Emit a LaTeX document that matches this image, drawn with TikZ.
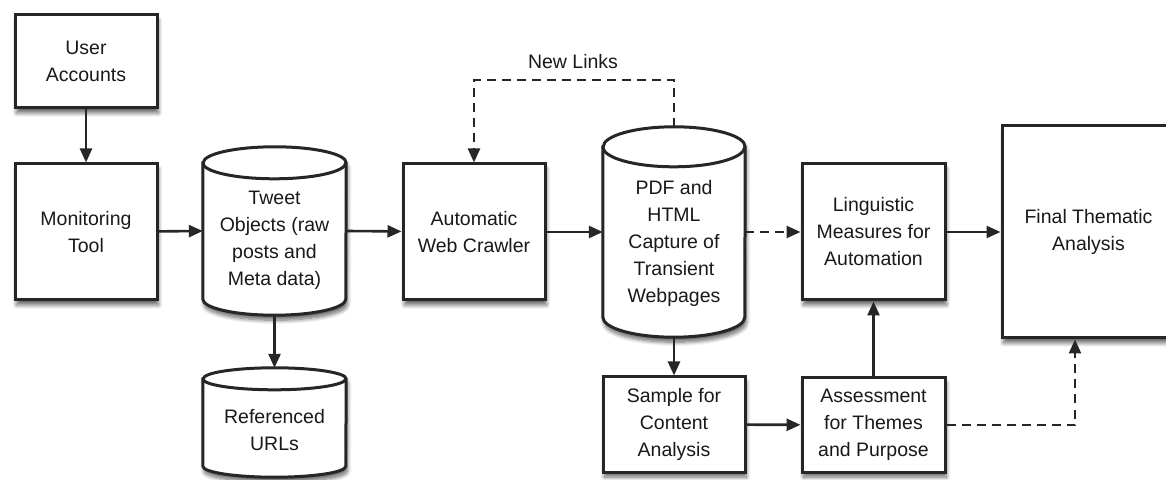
\documentclass[tikz,border=0pt]{standalone}
\usepackage{fontspec}
\setmainfont{Liberation Sans}
\usetikzlibrary{arrows.meta,shadows.blur}
\tikzset{
  x=1pt,y=1pt,
  lbl/.style={font=\fontsize{19.5}{27}\selectfont, align=center, text=black!90},
  shad/.style={blur shadow={shadow xshift=1.5pt, shadow yshift=-5pt, shadow opacity=60, shadow blur steps=8, shadow blur radius=4pt}},
  box/.style={lbl, draw=black!85, line width=3pt, fill=white, inner sep=0pt, shad},
  ghost/.style={inner sep=0pt, rectangle},
  cylline/.style={draw=black!85, line width=3pt, fill=white},
  conn/.style={line width=2.6pt, draw=black!85, -{Triangle[length=14pt,width=12pt]}},
  dconn/.style={conn, dash pattern=on 9pt off 6pt},
}
\newcommand\cylshape[3]{%
  \path[cylline,shad] ([yshift=-#3 pt]#1.north west) -- ([yshift=#3 pt]#1.south west)
     arc[start angle=180, end angle=360, x radius=#2, y radius=#3]
     -- ([yshift=-#3 pt]#1.north east)
     arc[start angle=0, end angle=180, x radius=#2, y radius=#3] -- cycle;
  \draw[cylline, fill=none] ([yshift=-#3 pt]#1.north west)
     arc[start angle=180, end angle=360, x radius=#2, y radius=#3];
}
\begin{document}
\begin{tikzpicture}
\useasboundingbox (0,0) rectangle (1166,479);
% boxes
\node[box, minimum width=142pt, minimum height=93pt] (ua) at (86,417.5) {User\\Accounts};
\node[box, minimum width=142pt, minimum height=136pt] (mt) at (86,247) {Monitoring\\Tool};
\node[box, minimum width=142pt, minimum height=136pt] (wc) at (474,247) {Automatic\\Web Crawler};
\node[box, minimum width=143pt, minimum height=136pt] (lm) at (873.5,247) {Linguistic\\Measures for\\Automation};
\node[box, minimum width=173pt, minimum height=212pt] (ft) at (1088.5,247) {Final Thematic\\Analysis};
\node[box, minimum width=142pt, minimum height=95pt] (sc) at (674,54.5) {Sample for\\Content\\Analysis};
\node[box, minimum width=143pt, minimum height=94pt] (as) at (873.5,54) {Assessment\\for Themes\\and Purpose};
% cylinders
\node[ghost, minimum width=143pt, minimum height=168pt] (tw) at (274.5,248) {};
\cylshape{tw}{71.5}{16}
\node[lbl] at (274.5,239) {Tweet\\Objects (raw\\posts and\\Meta data)};
\node[ghost, minimum width=143pt, minimum height=109pt] (ru) at (274.5,56.5) {};
\cylshape{ru}{71.5}{11}
\node[lbl] at (274.5,49) {Referenced\\URLs};
\node[ghost, minimum width=142pt, minimum height=210pt] (pdf) at (674,247) {};
\cylshape{pdf}{71}{20}
\node[lbl] at (674,236) {PDF and\\HTML\\Capture of\\Transient\\Webpages};
% connectors
\draw[conn] (ua) -- (mt);
\draw[conn] (mt) -- (tw.west);
\draw[conn] (tw.south) -- (ru.north);
\draw[conn] (tw.east) -- (wc);
\draw[conn] (wc) -- (pdf.west);
\draw[dconn] (pdf.east) -- (lm);
\draw[conn] (lm) -- (ft);
\draw[conn] (pdf.south) -- (sc);
\draw[conn] (sc) -- (as);
\draw[conn] (as) -- (lm);
\draw[dconn] (as.east) -| ([xshift=-13.5pt]ft.south);
\coordinate (nl) at (674,399);
\draw[dconn] (pdf.north) -- (nl) -| (wc.north);
\node[lbl] (newlinks) at (573,417) {New Links};
\end{tikzpicture}
\end{document}
